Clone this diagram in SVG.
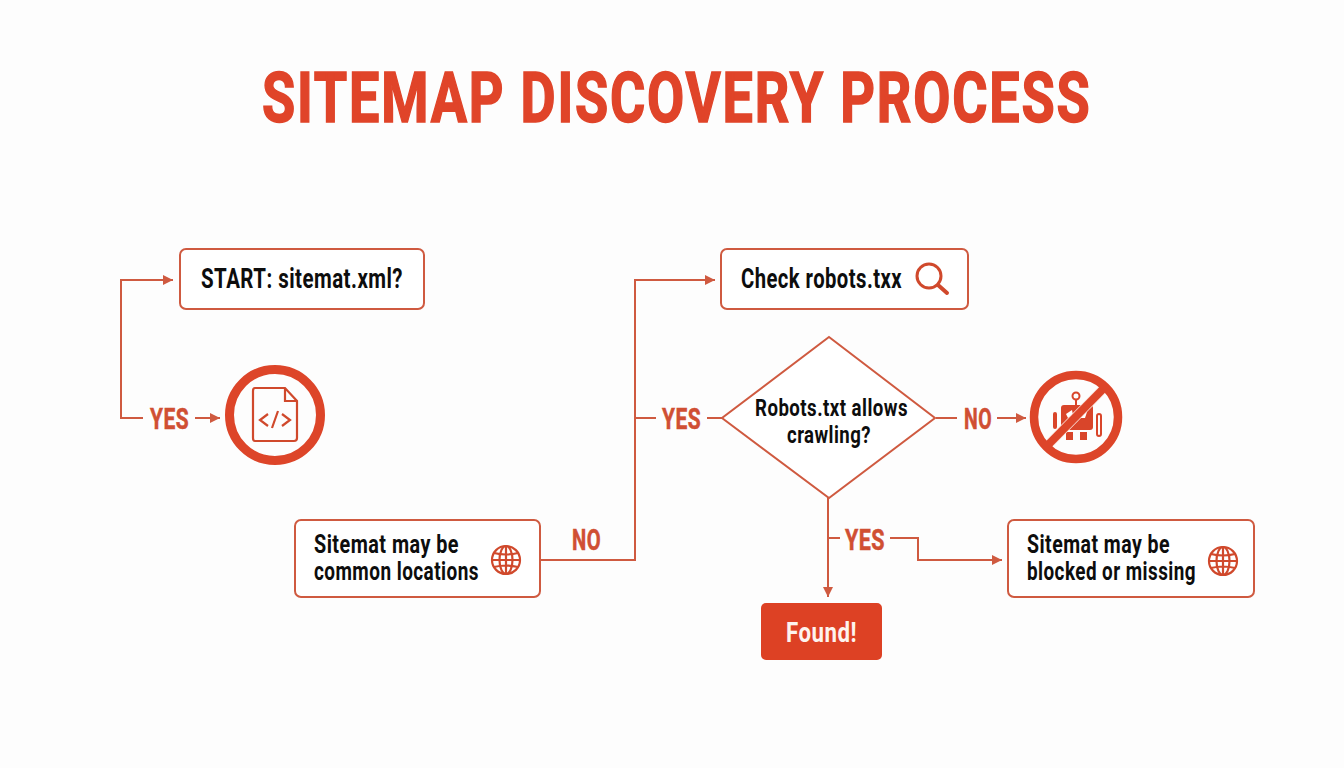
<svg xmlns="http://www.w3.org/2000/svg" width="1344" height="768" viewBox="0 0 1344 768">
<style>
text{font-family:Roboto,"Liberation Sans",sans-serif;font-weight:700;letter-spacing:.6px}
.t{font-size:27px;fill:#0d0d0d}
.m{font-size:25px;fill:#0d0d0d}
.d{font-size:24px;fill:#0d0d0d}
.l{font-size:29px;fill:#d04f33;stroke:#d04f33;stroke-width:.5}
.box{fill:#fff;stroke:#cf5a40;stroke-width:2}
.c{fill:none;stroke:#cf5a40;stroke-width:2}
.i{fill:none;stroke:#d0492c;stroke-width:2.200}
</style>
<defs>
<marker id="a" markerUnits="userSpaceOnUse" markerWidth="12" markerHeight="14" refX="10" refY="7" orient="auto"><path d="M0 2L10 7L0 12Z" fill="#cf5a40"/></marker>
<g id="globe"><circle r="14" class="i"/><ellipse rx="6.500" ry="14" class="i"/><path d="M0-14V14M-14 0H14M-12-7Q0-4 12-7M-12 7Q0 4 12 7" class="i"/></g>
</defs>
<rect width="1344" height="768" fill="#fdfdfd"/>
<text id="title" transform="translate(262 122) scale(.76 1)" font-size="71" fill="#e04429" stroke="#e04429" stroke-width="1.600" style="letter-spacing:0" textLength="1089" lengthAdjust="spacing">SITEMAP DISCOVERY PROCESS</text>
<g id="connectors">
<path class="c" marker-end="url(#a)" d="M143 418H121V280H173"/>
<path class="c" marker-end="url(#a)" d="M195 418H220"/>
<path class="c" marker-end="url(#a)" d="M541 560H635V280H715"/>
<path class="c" d="M635 418H656M707 418H723"/>
<path class="c" d="M936 418H957"/>
<path class="c" marker-end="url(#a)" d="M997 418H1026"/>
<path class="c" marker-end="url(#a)" d="M828 498V597"/>
<path class="c" d="M828 538H840"/>
<path class="c" marker-end="url(#a)" d="M890 538H918V560H1002"/>
</g>
<g id="labels">
<text class="l" x="150" y="429" textLength="39" lengthAdjust="spacingAndGlyphs">YES</text>
<text class="l" x="662" y="429" textLength="39" lengthAdjust="spacingAndGlyphs">YES</text>
<text class="l" x="964" y="429" textLength="28" lengthAdjust="spacingAndGlyphs">NO</text>
<text class="l" x="572" y="550" textLength="29" lengthAdjust="spacingAndGlyphs">NO</text>
<text class="l" x="845" y="550" textLength="40" lengthAdjust="spacingAndGlyphs">YES</text>
</g>
<g id="start"><rect class="box" x="180" y="249" width="244" height="60" rx="6"/><text class="t" x="201" y="288" textLength="202" lengthAdjust="spacingAndGlyphs">START: sitemat.xml?</text></g>
<g id="sitemap-icon"><circle cx="275" cy="415" r="45.500" fill="none" stroke="#dd4529" stroke-width="9"/>
<path class="i" d="M255 388H285L297 401V438Q297 441 294 441H255Q253 441 253 438V391Q253 388 255 388ZM285 388V401H297"/>
<path class="i" d="M268 414L260 420L268 426M282 414L290 420L282 426M278 411L272 428"/></g>
<g id="check"><rect class="box" x="721" y="249" width="247" height="60" rx="6"/><text class="t" x="741" y="288" textLength="161" lengthAdjust="spacingAndGlyphs">Check robots.txx</text>
<circle cx="929" cy="276" r="12" fill="none" stroke="#d0492c" stroke-width="3"/><path d="M938 285L947 293" stroke="#d0492c" stroke-width="4" stroke-linecap="round"/></g>
<g id="decision"><path class="box" d="M829 337L935 418L829 498L722 418Z"/>
<text class="d" x="755" y="416" textLength="153" lengthAdjust="spacingAndGlyphs">Robots.txt allows</text>
<text class="d" x="787" y="443" textLength="84" lengthAdjust="spacingAndGlyphs">crawling?</text></g>
<g id="robot-icon"><rect x="1061" y="405" width="32" height="25" rx="3" fill="#d9452a"/><circle cx="1076" cy="396" r="3.500" fill="none" stroke="#d9452a" stroke-width="2"/><path d="M1076 399V405" stroke="#d9452a" stroke-width="2"/>
<path d="M1066 414L1072 410L1073 415L1068 418ZM1080 414L1087 412L1085 418L1081 418Z" fill="#fff"/>
<rect x="1066" y="432" width="7" height="8" fill="#d9452a"/><rect x="1080" y="432" width="7" height="8" fill="#d9452a"/>
<path d="M1055 427V414" fill="none" stroke="#d9452a" stroke-width="4" stroke-linecap="round"/>
<rect x="1097" y="414" width="4" height="22" rx="2" fill="none" stroke="#d9452a" stroke-width="2"/>
<path d="M1105 387L1046 447" stroke="#fbe3dc" stroke-width="9.500"/>
<circle cx="1076" cy="417" r="42" fill="none" stroke="#dd4529" stroke-width="8.500"/><path d="M1105 387L1046 447" stroke="#dd4529" stroke-width="8"/></g>
<g id="common"><rect class="box" x="295" y="520" width="245" height="77" rx="6"/><text class="m" x="314" y="553" textLength="145" lengthAdjust="spacingAndGlyphs">Sitemat may be</text><text class="m" x="314" y="580" textLength="165" lengthAdjust="spacingAndGlyphs">common locations</text><use href="#globe" x="506" y="560"/></g>
<g id="blocked"><rect class="box" x="1008" y="520" width="246" height="77" rx="6"/><text class="m" x="1027" y="553" textLength="143" lengthAdjust="spacingAndGlyphs">Sitemat may be</text><text class="m" x="1027" y="580" textLength="169" lengthAdjust="spacingAndGlyphs">blocked or missing</text><use href="#globe" x="1223" y="561"/></g>
<g id="found"><rect x="761" y="603" width="121" height="57" rx="5" fill="#dd4124"/><text x="786" y="642" font-size="27" fill="#fdf3ee" textLength="71" lengthAdjust="spacingAndGlyphs">Found!</text></g>
</svg>
